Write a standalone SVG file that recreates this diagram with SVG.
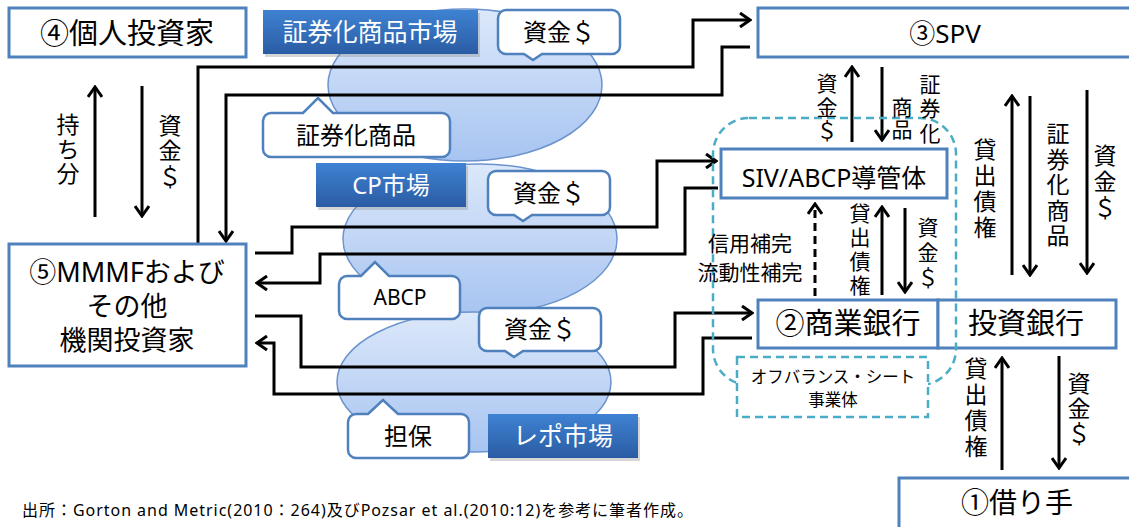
<svg xmlns="http://www.w3.org/2000/svg" width="1129" height="527" viewBox="0 0 1129 527">
<defs>
<linearGradient id="cloud" x1="0" y1="0" x2="0" y2="1"><stop offset="0" stop-color="#dce8fa"/><stop offset="1" stop-color="#a7c4f1"/></linearGradient>
<linearGradient id="mkt" x1="0" y1="0" x2="0" y2="1"><stop offset="0" stop-color="#3f82d3"/><stop offset="1" stop-color="#2a5ca3"/></linearGradient>
<marker id="ah" markerUnits="userSpaceOnUse" markerWidth="16" markerHeight="16" viewBox="0 0 16 16" refX="14" refY="8" orient="auto"><path d="M4,1 L14,8 L4,15" fill="none" stroke="#000" stroke-width="3" stroke-dasharray="none"/></marker>
</defs>
<style>
text{font-family:"Noto Sans","Noto Sans CJK JP",sans-serif;fill:#000;text-anchor:middle}
.box{fill:#fff;stroke:#4f81bd;stroke-width:3}
.cl{fill:url(#cloud);stroke:#6b93cd;stroke-width:1.5}
.mk{fill:url(#mkt)}
.sh{fill:#8a8a8a;opacity:0.35}
.mt{fill:#fff;font-size:25px}
.co{fill:#fff;stroke:#4f81bd;stroke-width:2.5}
.ln{fill:none;stroke:#000;stroke-width:3}
.ar{marker-end:url(#ah)}
.dash{fill:none;stroke:#4bacc6;stroke-width:2.5;stroke-dasharray:8 5}
.vt{writing-mode:vertical-rl;font-family:"Noto Sans CJK JP",sans-serif}
.v24{font-size:23px}
.v21{font-size:21px}
</style>
<rect width="1129" height="527" fill="#fff"/>

<g id="clouds">
<ellipse class="cl" cx="465" cy="85" rx="137" ry="76"/>
<ellipse class="cl" cx="480" cy="239" rx="137" ry="75"/>
<ellipse class="cl" cx="474" cy="382" rx="137" ry="70"/>
</g>

<g id="connectors">
<path class="ln ar" d="M198,243 V67 H693 V20 H750"/>
<path class="ln ar" d="M750,47 H722 V95 H226 V241"/>
<path class="ln ar" d="M255,253 H292 V227 H657 V161 H716"/>
<path class="ln ar" d="M718,188 H685 V254 H320 V283 H257"/>
<path class="ln ar" d="M255,316 H301 V367 H675 V313 H752"/>
<path class="ln ar" d="M752,338 H703 V394 H274 V343 H257"/>
<path class="ln ar" d="M95,217 V87"/>
<path class="ln ar" d="M142,86 V216"/>
<path class="ln ar" d="M852,142 V67"/>
<path class="ln ar" d="M882,67 V140"/>
<path class="ln ar" d="M815,296 V204" stroke-dasharray="8 5"/>
<path class="ln ar" d="M882,295 V207"/>
<path class="ln ar" d="M905,208 V292"/>
<path class="ln ar" d="M1012,275 V96"/>
<path class="ln ar" d="M1030,96 V275"/>
<path class="ln ar" d="M1087,90 V273"/>
<path class="ln ar" d="M1002,470 V358"/>
<path class="ln ar" d="M1059,356 V468"/>
</g>

<g id="market-securitization">
<rect class="sh" x="265" y="13" width="215" height="44"/>
<rect class="mk" x="263" y="10" width="215" height="44"/>
<text class="mt" x="370" y="41">証券化商品市場</text>
</g>
<g id="market-cp">
<rect class="sh" x="318" y="166" width="150" height="44"/>
<rect class="mk" x="316" y="163" width="150" height="44"/>
<text class="mt" x="391" y="194" style="font-size:24px">CP市場</text>
</g>
<g id="market-repo">
<rect class="sh" x="490" y="417" width="150" height="44"/>
<rect class="mk" x="488" y="414" width="150" height="44"/>
<text class="mt" x="563" y="445">レポ市場</text>
</g>

<g id="callout-fund1">
<path class="co" d="M506,10 H612 A8,8 0 0 1 620,18 V46 A8,8 0 0 1 612,54 H542 L533,60 L524,54 H506 A8,8 0 0 1 498,46 V18 A8,8 0 0 1 506,10 Z"/>
<text x="559" y="41" font-size="24">資金＄</text>
</g>
<g id="callout-sec">
<path class="co" d="M271,113 H303 L318,98 L333,113 H442 A8,8 0 0 1 450,121 V149 A8,8 0 0 1 442,157 H271 A8,8 0 0 1 263,149 V121 A8,8 0 0 1 271,113 Z"/>
<text x="356" y="144" font-size="24">証券化商品</text>
</g>
<g id="callout-fund2">
<path class="co" d="M496,171 H602 A8,8 0 0 1 610,179 V207 A8,8 0 0 1 602,215 H532 L523,221 L514,215 H496 A8,8 0 0 1 488,207 V179 A8,8 0 0 1 496,171 Z"/>
<text x="549" y="202" font-size="24">資金＄</text>
</g>
<g id="callout-abcp">
<path class="co" d="M347,276 H361 L375,262 L389,276 H452 A8,8 0 0 1 460,284 V311 A8,8 0 0 1 452,319 H347 A8,8 0 0 1 339,311 V284 A8,8 0 0 1 347,276 Z"/>
<text x="400" y="305" font-size="21">ABCP</text>
</g>
<g id="callout-fund3">
<path class="co" d="M487,308 H593 A8,8 0 0 1 601,316 V343 A8,8 0 0 1 593,351 H523 L514,357 L505,351 H487 A8,8 0 0 1 479,343 V316 A8,8 0 0 1 487,308 Z"/>
<text x="540" y="338" font-size="24">資金＄</text>
</g>
<g id="callout-collateral">
<path class="co" d="M356,414 H368 L383,400 L398,414 H461 A8,8 0 0 1 469,422 V450 A8,8 0 0 1 461,458 H356 A8,8 0 0 1 348,450 V422 A8,8 0 0 1 356,414 Z"/>
<text x="408" y="445" font-size="24">担保</text>
</g>

<g id="node-individual">
<rect class="box" x="9" y="8" width="237" height="49"/>
<text x="127" y="44" font-size="29">④個人投資家</text>
</g>
<g id="node-spv">
<rect class="box" x="758" y="8" width="380" height="49"/>
<text x="945" y="43" font-size="26">③SPV</text>
</g>
<g id="node-siv">
<rect class="box" x="721" y="149" width="226" height="49"/>
<text x="834" y="187" font-size="25">SIV/ABCP導管体</text>
</g>
<g id="node-mmmf">
<rect class="box" x="9" y="244" width="237" height="122"/>
<text x="127" y="282" font-size="27">⑤MMMFおよび</text>
<text x="127" y="316" font-size="27">その他</text>
<text x="127" y="350" font-size="27">機関投資家</text>
</g>
<g id="node-commercial-bank">
<rect class="box" x="758" y="300" width="180" height="48"/>
<text x="848" y="334" font-size="29">②商業銀行</text>
</g>
<g id="node-investment-bank">
<rect class="box" x="938" y="300" width="178" height="48"/>
<text x="1026" y="334" font-size="29">投資銀行</text>
</g>
<g id="node-borrower">
<rect class="box" x="899" y="478" width="240" height="60"/>
<text x="1017" y="513" font-size="28">①借り手</text>
</g>

<g id="node-offbalance">
<rect class="dash" x="713" y="118" width="243" height="267" rx="36"/>
<rect class="dash" x="737" y="357" width="191" height="60" style="fill:#fff"/>
<text x="833" y="383" font-size="16.5">オフバランス・シート</text>
<text x="833" y="406" font-size="16.5">事業体</text>
</g>

<g id="labels">
<text class="vt v24" x="68" y="150" letter-spacing="1.5">持ち分</text>
<text class="vt v24" x="170" y="152" letter-spacing="2.5">資金＄</text>
<text class="vt v21" x="827" y="108" letter-spacing="2.5">資金＄</text>
<text class="vt v21" x="930" y="110" letter-spacing="3.5">証券化</text>
<text class="vt v21" x="902" y="119" letter-spacing="1">商品</text>
<text x="750" y="251" font-size="21">信用補完</text>
<text x="750" y="280" font-size="21">流動性補完</text>
<text class="vt v21" x="860" y="251" letter-spacing="3">貸出債権</text>
<text class="vt v21" x="928" y="254" letter-spacing="4">資金＄</text>
<text class="vt v24" x="985" y="190" letter-spacing="3">貸出債権</text>
<text class="vt v24" x="1058" y="186" letter-spacing="2.5">証券化商品</text>
<text class="vt v24" x="1105" y="183" letter-spacing="3">資金＄</text>
<text class="vt v24" x="976" y="409" letter-spacing="3">貸出債権</text>
<text class="vt v24" x="1079" y="409" letter-spacing="2">資金＄</text>
</g>

<g id="footer">
<text x="22" y="516" font-size="16" textLength="671" lengthAdjust="spacing" style="text-anchor:start">出所：Gorton and Metric(2010：264)及びPozsar et al.(2010:12)を参考に筆者作成。</text>
</g>
</svg>
